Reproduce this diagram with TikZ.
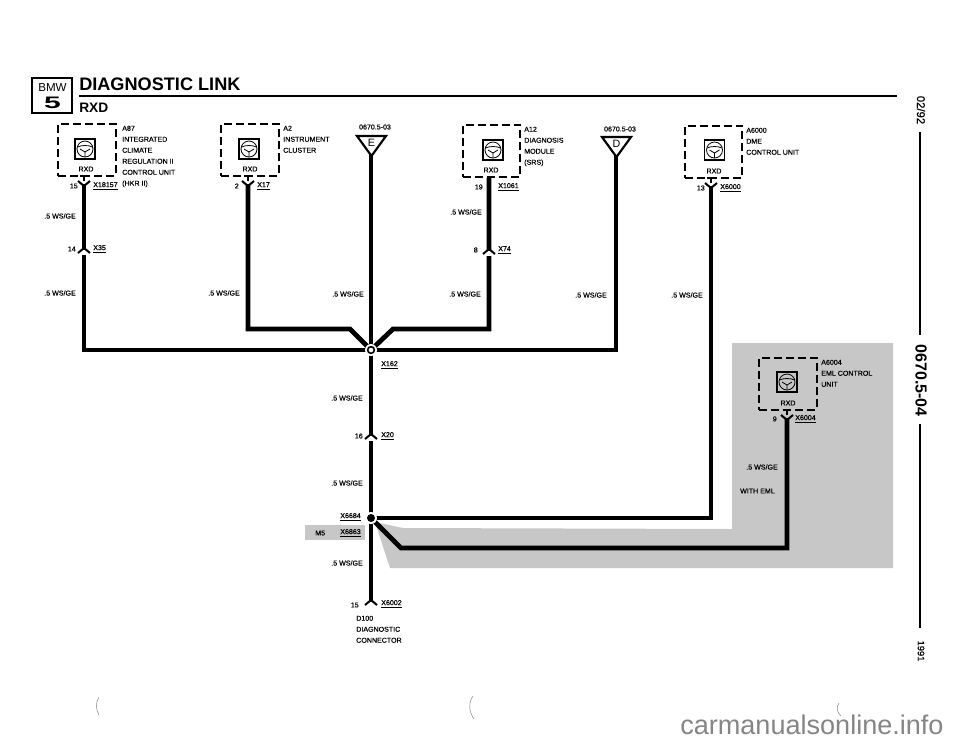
\documentclass[tikz,border=0pt]{standalone}
\usepackage{fontspec}
\setmainfont{Liberation Sans}
\newfontfamily\lblfont{Liberation Sans}[FakeBold=0.5]
\tikzset{
  wire/.style={line width=3.6pt,line join=miter},
  ecubox/.style={draw,line width=1.3pt,dash pattern=on 6pt off 3pt,minimum width=43pt,minimum height=39pt,inner sep=0pt},
  lbl/.style={font=\lblfont\fontsize{5.3}{8.25}\selectfont,inner sep=0pt,align=left},
  lble/.style={lbl,anchor=east},
  lblw/.style={lbl,anchor=west},
  lblc/.style={lbl,anchor=center},
  lbln/.style={lbl,anchor=north west},
  shade/.style={fill=black!22,draw=none},
  ecusym/.pic={
    \draw[line width=.9pt] (-10,-10) rectangle (10,10);
    \draw[line width=.6pt] (0,0) circle (8);
    \draw[line width=.6pt] (-7.5,-2) .. controls (-3,-4) and (3,-4) .. (7.5,-2);
    \draw[line width=.6pt] (-5,0) -- (0,3) -- (5,0) (0,3) -- (0,8);
  },
  forkf/.pic={
    \draw[line width=1pt] (-4,-8) -- (4,-8) (0,-8) -- (0,-3);
    \draw[line width=1.5pt] (-6,-3) -- (0,2) -- (6,-3);
  },
  connm/.pic={
    \fill[white] (-3,0) rectangle (3,5);
    \draw[line width=1.5pt] (-6,3) -- (0,-2) -- (6,3);
  },
  pagetxt/.style={inner sep=0pt,rotate=-90}
}
\begin{document}
\begin{tikzpicture}[x=.75pt,y=-.75pt]
  \useasboundingbox (0,0) rectangle (960,744);

  \fill[shade] (375,522) -- (403,528) -- (732,529) -- (732,343) -- (893,343) -- (893,568) -- (390,568) -- cycle;
  \fill[shade] (305,525) rectangle (365,540);

  \node[draw,line width=1.6pt,minimum width=30pt,minimum height=26pt,inner sep=0pt] (logo) at (52,95.5) {};
  \node[inner sep=0pt,font=\fontsize{8.7}{10}\selectfont] (logobmw) at (52.5,88) {BMW};
  \node[inner sep=0pt,font=\fontsize{12.5}{14}\bfseries\selectfont,xscale=1.8] (logofive) at (52.5,103) {5};
  \node[inner sep=0pt,anchor=west,font=\fontsize{13.6}{16}\bfseries\selectfont] (title) at (79,84.5) {DIAGNOSTIC LINK};
  \node[inner sep=0pt,anchor=west,font=\fontsize{10.3}{12}\bfseries\selectfont] (subtitle) at (79,108) {RXD};
  \coordinate (rulea) at (79,96);
  \coordinate (ruleb) at (897,96);
  \draw[line width=1.4pt] (rulea) -- (ruleb);

  \node[pagetxt,font=\lblfont\fontsize{8.5}{10}\selectfont] (date) at (921,110) {02/92};
  \node[pagetxt,font=\fontsize{12}{14}\bfseries\selectfont] (pageno) at (921,380.5) {0670.5-04};
  \node[pagetxt,font=\lblfont\fontsize{7}{9}\selectfont] (year) at (921,651) {1991};
  \coordinate (stripa) at (920,132);
  \coordinate (stripb) at (920,335);
  \coordinate (stripc) at (920,424);
  \coordinate (stripd) at (920,628);
  \draw[line width=1.8pt] (stripa) -- (stripb) (stripc) -- (stripd);

  \node[ecubox] (a87) at (87,150) {};
  \node[ecubox] (a2) at (250,150) {};
  \node[ecubox] (a12) at (491.5,151) {};
  \node[ecubox] (a6000) at (713.5,152) {};
  \node[ecubox] (a6004) at (788,384) {};
  \pic at (85,149) {ecusym};
  \pic at (249,149) {ecusym};
  \pic at (493,150) {ecusym};
  \pic at (714.5,150) {ecusym};
  \pic at (787,382) {ecusym};

  \draw[line width=1.6pt] (357,136) -- ++(29,0) -- ++(-14.5,20) -- cycle;
  \draw[line width=1.6pt] (602,137) -- ++(29,0) -- ++(-14.5,20) -- cycle;
  \node[inner sep=0pt,font=\fontsize{8}{10}\selectfont] (e) at (371.5,142.5) {E};
  \node[inner sep=0pt,font=\fontsize{8}{10}\selectfont] (d) at (616.5,143.5) {D};

  \coordinate (a87pin) at (84,184);
  \coordinate (x35) at (84,250);
  \coordinate (a87bend) at (84,350);
  \coordinate (a2pin) at (248,184);
  \coordinate (a2bend) at (248,329);
  \coordinate (a2diag) at (350,329);
  \coordinate (etip) at (371,154);
  \coordinate (x162) at (371,350);
  \coordinate (a12pin) at (a12.south -| 489,0);
  \coordinate (x74) at (489,251);
  \coordinate (a12bend) at (489,329);
  \coordinate (a12diag) at (393,329);
  \coordinate (dtip) at (616,155);
  \coordinate (dbend) at (616,350);
  \coordinate (x20) at (371,436);
  \coordinate (x6684) at (371,518);
  \coordinate (x6002) at (371,602);
  \coordinate (a6000pin) at (711,186);
  \coordinate (a6000bend) at (711,518);
  \coordinate (a6004pin) at (787,418);
  \coordinate (a6004bend) at (787,548);
  \coordinate (a6004diag) at (401,548);

  \draw[wire] (a87pin) -- (x35) -- (a87bend) -- (x162);
  \draw[wire] (a2pin) -- (a2bend) -- (a2diag) -- (x162);
  \draw[wire] (etip) -- (x162);
  \draw[wire] (a12pin) -- (x74) -- (a12bend) -- (a12diag) -- (x162);
  \draw[wire] (dtip) -- (dbend) -- (x162);
  \draw[wire] (x162) -- (x20) -- (x6684) -- (x6002);
  \draw[wire] (a6000pin) -- (a6000bend) -- (x6684);
  \draw[wire] (a6004pin) -- (a6004bend) -- (a6004diag) -- (x6684);

  \pic at (a87pin) {forkf};
  \pic at (a2pin) {forkf};
  \pic at (a6000pin) {forkf};
  \pic at (a6004pin) {forkf};
  \pic at (x35) {connm};
  \pic at (x74) {connm};
  \pic at (x20) {connm};
  \pic at (x6002) {connm};

  \node[circle,fill=white,minimum size=9pt,inner sep=0pt] (x162ring) at (x162) {};
  \node[circle,draw,line width=1.2pt,fill=white,minimum size=5pt,inner sep=0pt] (x162dot) at (x162) {};
  \node[circle,fill=white,minimum size=9pt,inner sep=0pt] (x6684ring) at (x6684) {};
  \node[circle,fill=black,minimum size=6pt,inner sep=0pt] (x6684dot) at (x6684) {};

  \node[lbln] (a87txt) at (122,125.5) {A87\\INTEGRATED\\CLIMATE\\REGULATION II\\CONTROL UNIT\\(HKR II)};
  \node[lbln] (a2txt) at (283,125.5) {A2\\INSTRUMENT\\CLUSTER};
  \node[lbln] (a12txt) at (524,126.5) {A12\\DIAGNOSIS\\MODULE\\(SRS)};
  \node[lbln] (a6000txt) at (746,127.5) {A6000\\DME\\CONTROL UNIT};
  \node[lbln] (a6004txt) at (821,359.5) {A6004\\EML CONTROL\\UNIT};
  \node[lbln] (d100txt) at (356,615.5) {D100\\DIAGNOSTIC\\CONNECTOR};

  \node[lblc] (a87rxd) at (86,169) {RXD};
  \node[lblc] (a2rxd) at (250,169) {RXD};
  \node[lblc] (a12rxd) at (491,170) {RXD};
  \node[lblc] (a6000rxd) at (714,171) {RXD};
  \node[lblc] (a6004rxd) at (788,403) {RXD};

  \node[lble] (pin15a) at (78,186) {15};
  \node[lblw] (x18157txt) at (93,186) {\underline{X18157}};
  \node[lble] (pin14) at (76,249) {14};
  \node[lblw] (x35txt) at (93,249) {\underline{X35}};
  \node[lble] (pin2) at (239,186) {2};
  \node[lblw] (x17txt) at (257,186) {\underline{X17}};
  \node[lble] (pin19) at (483,187) {19};
  \node[lblw] (x1061txt) at (498,187) {\underline{X1061}};
  \node[lble] (pin8) at (478,250) {8};
  \node[lblw] (x74txt) at (498,250) {\underline{X74}};
  \node[lble] (pin13) at (705,188) {13};
  \node[lblw] (x6000txt) at (720,188) {\underline{X6000}};
  \node[lble] (pin9) at (777,419) {9};
  \node[lblw] (x6004txt) at (795,419) {\underline{X6004}};
  \node[lble] (pin16) at (363,436) {16};
  \node[lblw] (x20txt) at (381,436) {\underline{X20}};
  \node[lble] (pin15b) at (359,605) {15};
  \node[lblw] (x6002txt) at (381,604) {\underline{X6002}};
  \node[lblw] (x162txt) at (381,365) {\underline{X162}};
  \node[lble] (x6684txt) at (361,517) {\underline{X6684}};
  \node[lble] (x6863txt) at (361,533) {\underline{X6863}};
  \node[lblw] (m5txt) at (315,533) {M5};

  \node[lblc] (xrefe) at (375,127) {0670.5-03};
  \node[lblc] (xrefd) at (620,129) {0670.5-03};

  \node[lble] (wsa) at (76,216) {.5 WS/GE};
  \node[lble] (wsb) at (76,293) {.5 WS/GE};
  \node[lble] (wsc) at (240,293) {.5 WS/GE};
  \node[lble] (wsd) at (364,294) {.5 WS/GE};
  \node[lble] (wse) at (482,212) {.5 WS/GE};
  \node[lble] (wsf) at (481,294) {.5 WS/GE};
  \node[lble] (wsg) at (607,295) {.5 WS/GE};
  \node[lble] (wsh) at (703,295) {.5 WS/GE};
  \node[lble] (wsi) at (363,398) {.5 WS/GE};
  \node[lble] (wsj) at (363,483) {.5 WS/GE};
  \node[lble] (wsk) at (363,563) {.5 WS/GE};
  \node[lble] (wsl) at (778,467) {.5 WS/GE};
  \node[lble] (witheml) at (775,491) {WITH EML};

  \draw[black!45,line width=.4pt] (99,697) .. controls (95,703) and (96,710) .. (99,715);
  \draw[black!45,line width=.4pt] (473,696) .. controls (468,703) and (469,712) .. (474,719);
  \draw[black!45,line width=.4pt] (839,703) .. controls (836,707) and (837,713) .. (841,716);

  \node[inner sep=0pt,anchor=base west,text=black!48,font=\fontsize{20.3}{24}\selectfont] (mark) at (680,734) {carmanualsonline.info};
\end{tikzpicture}
\end{document}
